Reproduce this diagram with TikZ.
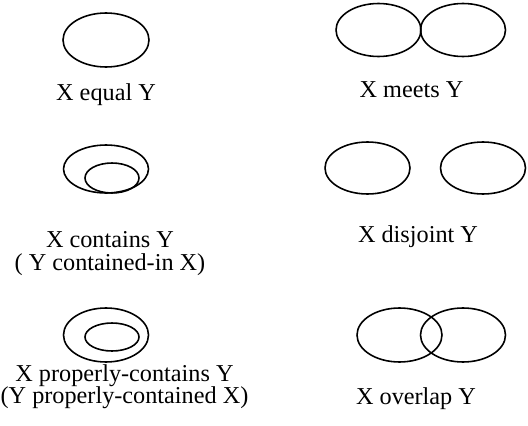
\documentclass[tikz,border=0pt]{standalone}
\usepackage{fontspec}
\setmainfont{Liberation Serif}
\usetikzlibrary{shapes.geometric}
\tikzset{
  set/.style={ellipse,draw=black,line width=0.9pt,inner sep=0pt,minimum width=1.7cm,minimum height=1.06cm},
  sub/.style={set,minimum width=1.08cm,minimum height=0.58cm},
  rel/.style={font=\fontsize{13.8}{12.9}\selectfont,align=center,inner sep=0pt},
}
\begin{document}
\begin{tikzpicture}[x=0.02cm,y=-0.02cm]
  \useasboundingbox (0,0) rectangle (528,426);
  % equal
  \node[set,minimum width=1.72cm,minimum height=1.08cm](eqX) at (106,40){};
  \node[rel,anchor=base](eqL) at (106,100){X equal Y};
  % meets
  \node[set](meX) at (378.5,30){}; \node[set](meY) at (463,30){};
  \node[rel,anchor=base](meL) at (411.5,97){X meets Y};
  % contains
  \node[set,minimum height=0.96cm](coX) at (106,169){};
  \node[sub,minimum height=0.6cm](coY) at (112,178){};
  \node[rel,anchor=north](coL) at (110,231){X contains Y\\( Y contained-in X)};
  % disjoint
  \node[set,minimum height=1.04cm](diX) at (367.5,168){}; \node[set,minimum height=1.04cm](diY) at (483,168){};
  \node[rel,anchor=base](diL) at (418,242){X disjoint Y};
  % properly contains
  \node[set,minimum height=1.08cm](prX) at (106,335){};
  \node[sub,minimum height=0.56cm](prY) at (112,337){};
  \node[rel,anchor=north](prL) at (124.5,364){X properly-contains Y\\(Y properly-contained X)};
  % overlap
  \node[set,minimum height=1.08cm](ovX) at (399.5,335){}; \node[set,minimum height=1.08cm](ovY) at (463,335){};
  \node[rel,anchor=base](ovL) at (416,404){X overlap Y};
\end{tikzpicture}
\end{document}
